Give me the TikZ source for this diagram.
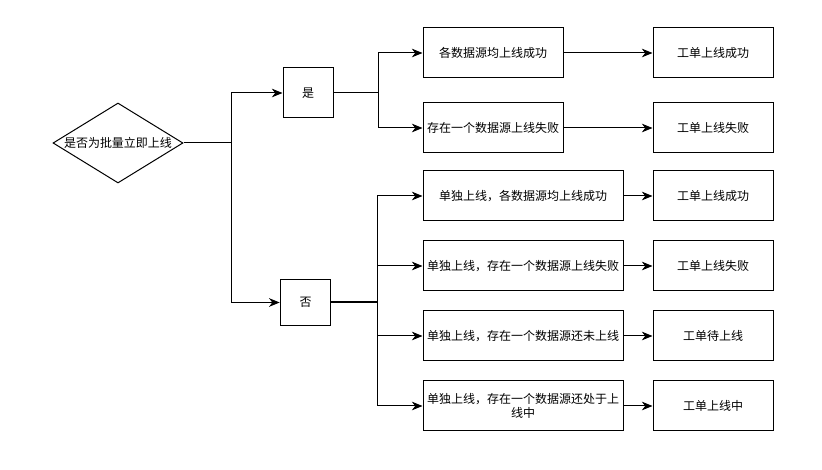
\documentclass[tikz,border=0pt]{standalone}
\usepackage{fontspec}
\setmainfont{Noto Sans CJK SC}
\usetikzlibrary{shapes.geometric,arrows.meta}
\begin{document}
\begin{tikzpicture}[x=0.75pt,y=-0.75pt,
  box/.style={draw=black,line width=0.75pt,fill=white,inner sep=1pt,align=center,font=\fontsize{9pt}{11pt}\selectfont},
  midbox/.style={box,minimum width=105pt,minimum height=37.5pt},
  widebox/.style={box,minimum width=150pt,minimum height=37.5pt,text width=146pt},
  endbox/.style={box,minimum width=90pt,minimum height=37.5pt},
  arr/.style={draw=black,line width=0.75pt,-{Stealth[length=8pt,width=6.5pt,inset=2.5pt]}},
  ln/.style={draw=black,line width=0.75pt}]
\useasboundingbox (0,0) rectangle (822,470);
% decision
\node[diamond,draw=black,line width=0.75pt,fill=white,minimum width=97.5pt,minimum height=60pt,inner sep=0pt,
  label={[font=\fontsize{9pt}{11pt}\selectfont]center:是否为批量立即上线}] (d) at (118,143) {};
\node[box,minimum width=37.5pt,minimum height=37.5pt] (yes) at (308,93) {是};
\node[box,minimum width=38pt,minimum height=34pt] (no) at (305.5,302.5) {否};
% yes branch
\node[midbox] (y1) at (493,53) {各数据源均上线成功};
\node[midbox] (y2) at (493,128) {存在一个数据源上线失败};
\node[endbox] (r1) at (713,53) {工单上线成功};
\node[endbox] (r2) at (713,128) {工单上线失败};
% no branch
\node[widebox] (n1) at (523,196) {单独上线，各数据源均上线成功};
\node[widebox] (n2) at (523,266) {单独上线，存在一个数据源上线失败};
\node[widebox] (n3) at (523,336) {单独上线，存在一个数据源还未上线};
\node[widebox] (n4) at (523,406) {单独上线，存在一个数据源还处于上\\线中};
\node[endbox] (r3) at (713,196) {工单上线成功};
\node[endbox] (r4) at (713,266) {工单上线失败};
\node[endbox] (r5) at (713,336) {工单待上线};
\node[endbox] (r6) at (713,406) {工单上线中};
% junctions
\coordinate (j1) at (231.5,143);
\coordinate (j2) at (378,93);
\coordinate (j3) at (377,302.5);
\draw[ln] (d.east) -- (j1);
\draw[arr] (j1) |- (yes.west);
\draw[arr] (j1) |- (no.west);
\draw[ln] (yes.east) -- (j2);
\draw[arr] (j2) |- (y1.west);
\draw[arr] (j2) |- (y2.west);
\draw[ln,line width=1.5pt] (no.east) -- (j3);
\draw[arr] (j3) |- (n1.west);
\draw[arr] (j3) |- (n2.west);
\draw[arr] (j3) |- (n3.west);
\draw[arr] (j3) |- (n4.west);
\draw[arr] (y1) -- (r1);
\draw[arr] (y2) -- (r2);
\draw[arr] (n1) -- (r3);
\draw[arr] (n2) -- (r4);
\draw[arr] (n3) -- (r5);
\draw[arr] (n4) -- (r6);
\end{tikzpicture}
\end{document}
